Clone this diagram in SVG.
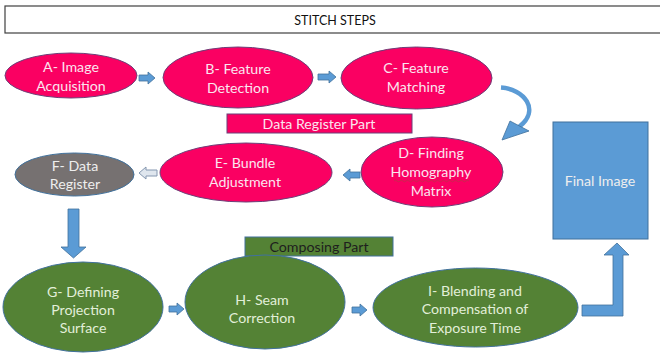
<svg xmlns="http://www.w3.org/2000/svg" width="660" height="358" viewBox="0 0 660 358">
<defs>
<style>
text{font-family:Lato,"Open Sans","Liberation Sans",sans-serif;font-size:14.2px;text-anchor:middle}
.pink{fill:#fa0062;stroke:#6d3f78;stroke-width:1}
.green{fill:#548235;stroke:#41719c;stroke-width:1}
.gray{fill:#767171;stroke:#41719c;stroke-width:1}
.blue{fill:#5b9bd5;stroke:#41719c;stroke-width:1}
.tp{fill:#fbe5ef}
.tg{fill:#e2efd9}
.tw{fill:#eeeeee}
.arr{fill:#5b9bd5;stroke:#41719c;stroke-width:0.8}
</style>
</defs>
<rect width="660" height="358" fill="#ffffff"/>
<g id="title">
<rect x="5" y="6" width="660" height="27" fill="#ffffff" stroke="#404040" stroke-width="1.2"/>
<text x="335" y="24.5" style="font-size:12.5px;fill:#111">STITCH STEPS</text>
</g>
<g id="nodeA">
<ellipse class="pink" cx="71" cy="75.5" rx="66" ry="22.5"/>
<text class="tp" x="71" y="72">A- Image</text>
<text class="tp" x="71" y="91">Acquisition</text>
</g>
<g id="nodeB">
<ellipse class="pink" cx="238" cy="77.5" rx="75" ry="30.5"/>
<text class="tp" x="238" y="74">B- Feature</text>
<text class="tp" x="238" y="93">Detection</text>
</g>
<g id="nodeC">
<ellipse class="pink" cx="416.5" cy="78" rx="75.5" ry="31"/>
<text class="tp" x="416" y="73">C- Feature</text>
<text class="tp" x="416" y="92">Matching</text>
</g>
<g id="dataRegisterPart">
<rect class="pink" x="227" y="114" width="185" height="19"/>
<text class="tp" x="319" y="128.5">Data Register Part</text>
</g>
<g id="nodeD">
<ellipse class="pink" cx="432" cy="172" rx="71" ry="35"/>
<text class="tp" x="431" y="158">D- Finding</text>
<text class="tp" x="431" y="177">Homography</text>
<path d="M394,181 q1.5,-1.5 3,0 t3,0 t3,0 t3,0 t3,0 t3,0 t3,0 t3,0 t3,0 t3,0 t3,0 t3,0 t3,0 t3,0 t3,0 t3,0 t3,0 t3,0 t3,0 t3,0 t3,0 t3,0 t3,0 t3,0 t3,0" fill="none" stroke="#c0304a" stroke-width="0.8"/>
<text class="tp" x="431" y="196">Matrix</text>
</g>
<g id="nodeE">
<ellipse class="pink" cx="246" cy="172.5" rx="86" ry="29.5"/>
<text class="tp" x="245" y="168">E- Bundle</text>
<text class="tp" x="245" y="187">Adjustment</text>
</g>
<g id="nodeF">
<ellipse class="gray" cx="74.5" cy="174.5" rx="59.5" ry="21.5"/>
<text class="tw" x="75" y="171">F- Data</text>
<text class="tw" x="75" y="189">Register</text>
</g>
<g id="nodeG">
<ellipse class="green" cx="83" cy="307" rx="80" ry="45"/>
<text class="tg" x="83" y="297">G- Defining</text>
<text class="tg" x="83" y="315">Projection</text>
<text class="tg" x="83" y="333">Surface</text>
</g>
<g id="composingPart">
<rect class="green" x="245" y="237" width="148" height="19"/>
<text x="319" y="251.5" style="fill:#1e1e1e">Composing Part</text>
</g>
<g id="nodeH">
<ellipse class="green" cx="265" cy="302" rx="80" ry="47"/>
<text class="tg" x="262" y="305">H- Seam</text>
<text class="tg" x="262" y="323">Correction</text>
</g>
<g id="nodeI">
<ellipse class="green" cx="475.5" cy="307.5" rx="102.5" ry="39.5"/>
<text class="tg" x="475" y="296">I- Blending and</text>
<text class="tg" x="475" y="314">Compensation of</text>
<text class="tg" x="475" y="333">Exposure Time</text>
</g>
<g id="finalImage">
<rect class="blue" x="553" y="122" width="95" height="117"/>
<text class="tw" x="600" y="186">Final Image</text>
</g>
<g id="connectors">
<polygon class="arr" points="139,75 148,75 148,72 155,78 148,84 148,81 139,81"/>
<polygon class="arr" points="318,74 329,74 329,71 336,77 329,83 329,80 318,80"/>
<path d="M501,87.5 C524,89 541,110 519,127" fill="none" stroke="#5b9bd5" stroke-width="4.5"/>
<polygon class="arr" points="510,121 529,131 502,140"/>
<polygon class="arr" points="360,172 350,172 350,169 343,175 350,181 350,178 360,178"/>
<polygon points="157,170 146,170 146,167 139,173 146,179 146,176 157,176" fill="#dfe6ee" stroke="#8497b0" stroke-width="1"/>
<polygon class="arr" points="68,209 79,209 79,247 86,247 73.5,258 61,247 68,247"/>
<polygon class="arr" points="169,306 177,306 177,303 184,309 177,315 177,312 169,312"/>
<polygon class="arr" points="352,307 360,307 360,304 367,310 360,316 360,313 352,313"/>
<polygon class="arr" points="582,305 613,305 613,255 604,255 617,243 629,255 623,255 623,316 582,316"/>
</g>
</svg>
